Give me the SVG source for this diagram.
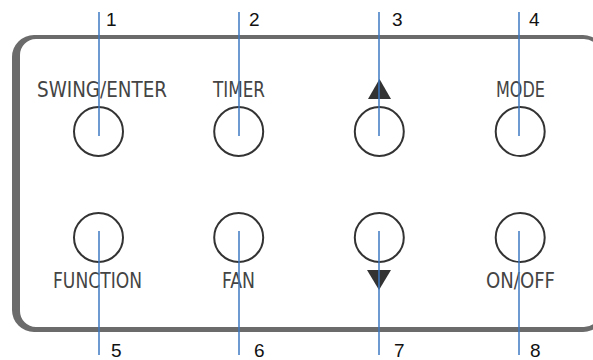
<svg xmlns="http://www.w3.org/2000/svg" width="593" height="360" viewBox="0 0 593 360">
<style>
.btn{fill:none;stroke:#333;stroke-width:2}
.lbl{font-family:"DejaVu Sans Condensed","DejaVu Sans",sans-serif;font-stretch:condensed;font-size:20.5px;fill:#444;text-anchor:middle}
.num{font-family:"Liberation Sans",Arial,sans-serif;font-size:19px;fill:#111}
.lead{stroke:#3b78c2;stroke-width:1.5;fill:none}
.tri{fill:#333}
</style>
<rect width="593" height="360" fill="#fff"/>
<g id="panel">
<path fill="#6b6b6b" fill-rule="evenodd" d="M34,35 H583 A22,22 0 0 1 605,57 V310 A22,22 0 0 1 583,332 H34 A22,22 0 0 1 12,310 V57 A22,22 0 0 1 34,35 Z M36,39 H584 A16,16 0 0 1 600,55 V311 A16,16 0 0 1 584,327 H36 A16,16 0 0 1 20,311 V55 A16,16 0 0 1 36,39 Z"/>
</g>
<g id="btn1"><circle class="btn" cx="98.5" cy="131.5" r="24.5"/><text class="lbl" x="102" y="97" textLength="130" lengthAdjust="spacingAndGlyphs">SWING/ENTER</text></g>
<g id="btn2"><circle class="btn" cx="238.7" cy="131.5" r="24.5"/><text class="lbl" x="239" y="97" textLength="52" lengthAdjust="spacingAndGlyphs">TIMER</text></g>
<g id="btn3"><circle class="btn" cx="379.3" cy="131.5" r="24.5"/><polygon class="tri" points="368,99 391,99 379.5,79"/></g>
<g id="btn4"><circle class="btn" cx="520.2" cy="131.5" r="24.5"/><text class="lbl" x="520.5" y="97" textLength="49" lengthAdjust="spacingAndGlyphs">MODE</text></g>
<g id="btn5"><circle class="btn" cx="98.5" cy="237.5" r="24.5"/><text class="lbl" x="97.5" y="288" textLength="89" lengthAdjust="spacingAndGlyphs">FUNCTION</text></g>
<g id="btn6"><circle class="btn" cx="238.7" cy="237.5" r="24.5"/><text class="lbl" x="238.5" y="288" textLength="33" lengthAdjust="spacingAndGlyphs">FAN</text></g>
<g id="btn7"><circle class="btn" cx="379.3" cy="237.5" r="24.5"/><polygon class="tri" points="367,270 391,270 379,290"/></g>
<g id="btn8"><circle class="btn" cx="520.2" cy="237.5" r="24.5"/><text class="lbl" x="520.5" y="288" textLength="69" lengthAdjust="spacingAndGlyphs">ON/OFF</text></g>
<g id="connectors">
<line class="lead" x1="99" y1="12" x2="99" y2="136"/>
<line class="lead" x1="239" y1="12" x2="239" y2="136"/>
<line class="lead" x1="379" y1="12" x2="379" y2="136"/>
<line class="lead" x1="519" y1="12" x2="519" y2="136"/>
<line class="lead" x1="99" y1="231" x2="99" y2="355"/>
<line class="lead" x1="239" y1="231" x2="239" y2="355"/>
<line class="lead" x1="379" y1="231" x2="379" y2="355"/>
<line class="lead" x1="519" y1="231" x2="519" y2="355"/>
</g>
<g id="numbers">
<text class="num" x="106" y="26">1</text>
<text class="num" x="249" y="26">2</text>
<text class="num" x="392" y="26">3</text>
<text class="num" x="529" y="26">4</text>
<text class="num" x="111" y="357">5</text>
<text class="num" x="254" y="357">6</text>
<text class="num" x="394" y="357">7</text>
<text class="num" x="530" y="357">8</text>
</g>
</svg>
